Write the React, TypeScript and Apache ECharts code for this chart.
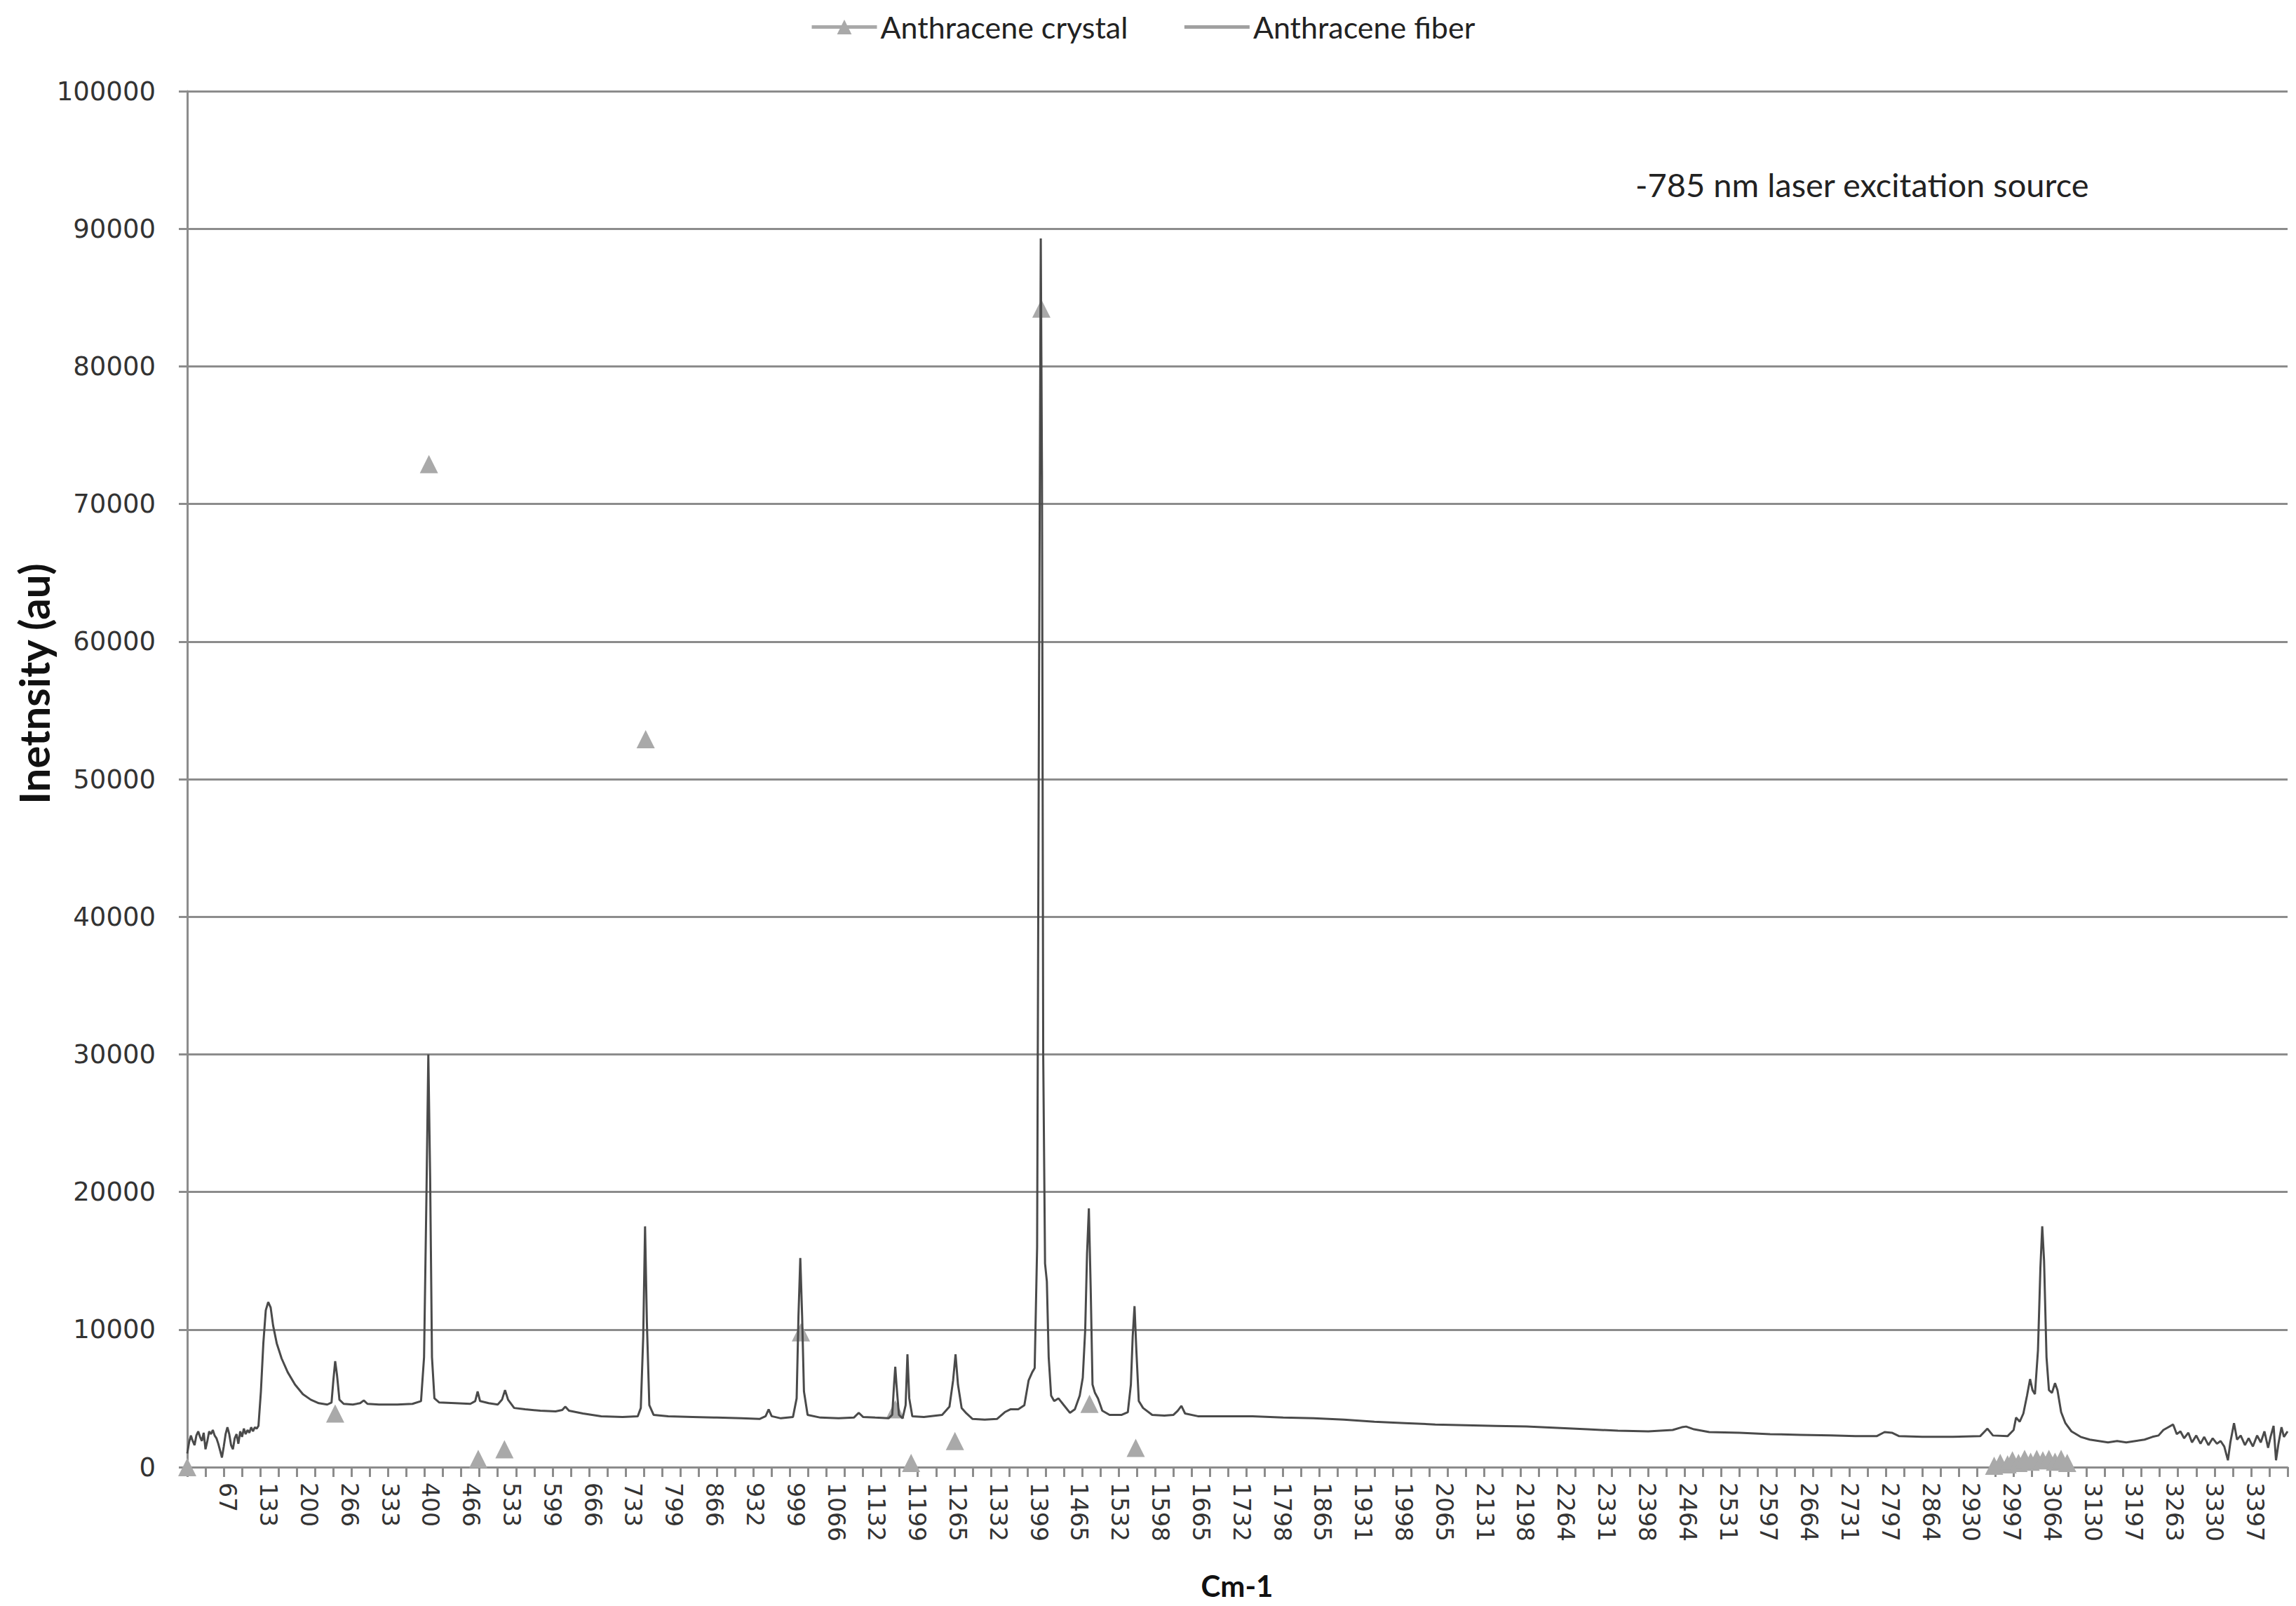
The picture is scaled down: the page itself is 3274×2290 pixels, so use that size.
import React, { useEffect, useRef } from 'react';
import * as echarts from 'echarts';

// Tick labels printed under the wavenumber axis (one every 66.6 cm-1)
const xTickLabels: string[] = [
  '67', '133', '200', '266', '333', '400', '466', '533', '599', '666', '733', '799', '866', '932', '999',
  '1066', '1132', '1199', '1265', '1332', '1399', '1465', '1532', '1598', '1665', '1732', '1798', '1865',
  '1931', '1998', '2065', '2131', '2198', '2264', '2331', '2398', '2464', '2531', '2597', '2664', '2731',
  '2797', '2864', '2930', '2997', '3064', '3130', '3197', '3263', '3330', '3397',
];
const labelStep = 66.6;
const tickStep = 30;
const xMax = 3450;

// Anthracene crystal: sparse points [cm-1, intensity]
const crystalPoints: [number, number][] = [
  [0, 0], [243, 3900], [397, 72900], [478, 600], [521, 1300], [753, 52900], [1008, 9800],
  [1163, 4200], [1189, 300], [1261, 1900], [1403, 84200], [1482, 4600], [1558, 1400],
  [2968, 100], [2978, 300], [2990, 200], [2998, 500], [3008, 300], [3018, 600], [3028, 400],
  [3038, 600], [3048, 500], [3058, 600], [3068, 400], [3078, 600], [3088, 300],
];

// Anthracene fiber spectrum [cm-1, intensity]
const fiberSpectrum: [number, number][] = [
  [0, 1000], [3, 1800], [6, 2300], [9, 1900], [12, 1600], [15, 2300], [18, 2600], [21, 2200], [24, 1900],
  [27, 2500], [30, 1300], [33, 1900], [36, 2600], [39, 2400], [42, 2700], [45, 2300], [48, 2100], [51, 1700],
  [54, 1200], [57, 700], [60, 1500], [63, 2400], [66, 2900], [69, 2400], [72, 1600], [75, 1300], [78, 2100],
  [81, 2400], [84, 1700], [87, 2600], [90, 2200], [93, 2800], [96, 2400], [99, 2700], [102, 2500], [105, 2900],
  [108, 2600], [111, 2900], [114, 2800], [117, 3000],
  [121, 5500], [125, 9000], [129, 11400], [133, 12000], [137, 11600], [141, 10300], [147, 9000], [155, 7900],
  [165, 6900], [177, 6000], [190, 5300], [203, 4900], [216, 4650], [230, 4550], [237, 4700], [240, 6300],
  [243, 7700], [246, 6700], [250, 4900], [257, 4600], [272, 4550], [284, 4650], [290, 4850], [296, 4600],
  [315, 4550], [345, 4550], [370, 4600], [384, 4800], [389, 8000], [393, 20000], [396, 30000], [399, 21000],
  [402, 8000], [406, 5000], [414, 4700], [440, 4650], [465, 4600], [473, 4800], [477, 5500], [481, 4800],
  [495, 4650], [510, 4550], [517, 4900], [522, 5600], [527, 4900], [537, 4300], [555, 4200], [580, 4100],
  [605, 4050], [616, 4150], [621, 4400], [627, 4100], [650, 3900], [680, 3700], [715, 3650], [740, 3700],
  [745, 4300], [749, 9500], [752, 17500], [755, 10500], [759, 4500], [766, 3800], [790, 3700], [830, 3650],
  [870, 3600], [910, 3550], [940, 3500], [950, 3700], [955, 4200], [960, 3700], [975, 3550], [995, 3650],
  [1001, 5000], [1004, 11000], [1007, 15200], [1010, 11000], [1013, 5500], [1019, 3800], [1040, 3600],
  [1070, 3550], [1095, 3600], [1103, 3950], [1110, 3650], [1130, 3600], [1152, 3550], [1158, 3800],
  [1161, 6000], [1163, 7300], [1165, 6000], [1169, 3800], [1175, 3550], [1180, 4500], [1183, 8200],
  [1186, 5000], [1191, 3700], [1210, 3650], [1240, 3800], [1252, 4400], [1258, 6300], [1262, 8200],
  [1266, 6000], [1272, 4300], [1280, 3900], [1290, 3500], [1310, 3450], [1330, 3500], [1343, 4000],
  [1352, 4200], [1365, 4200], [1375, 4500], [1382, 6300], [1388, 6900], [1392, 7200], [1396, 16000],
  [1399, 55000], [1402, 89300], [1404, 72000], [1406, 30000], [1409, 14800], [1412, 13500], [1415, 8000],
  [1419, 5200], [1424, 4800], [1431, 5000], [1440, 4500], [1450, 3950], [1458, 4200], [1466, 5200],
  [1471, 6500], [1475, 10000], [1478, 15500], [1481, 18800], [1484, 13000], [1487, 6000], [1491, 5400],
  [1496, 5000], [1503, 4100], [1515, 3800], [1535, 3800], [1545, 4000], [1550, 6000], [1553, 9500],
  [1556, 11700], [1559, 8500], [1563, 4800], [1570, 4300], [1585, 3800], [1605, 3750], [1620, 3800],
  [1627, 4100], [1633, 4450], [1639, 3900], [1660, 3700], [1700, 3700], [1750, 3700], [1800, 3600],
  [1850, 3550], [1900, 3450], [1950, 3300], [2000, 3200], [2050, 3100], [2100, 3050], [2150, 3000],
  [2200, 2950], [2250, 2850], [2300, 2750], [2350, 2650], [2400, 2600], [2440, 2700], [2455, 2900],
  [2462, 2950], [2475, 2750], [2500, 2550], [2550, 2500], [2600, 2400], [2650, 2350], [2700, 2300],
  [2740, 2250], [2775, 2250], [2788, 2550], [2800, 2500], [2812, 2250], [2850, 2200], [2900, 2200],
  [2945, 2250], [2957, 2800], [2966, 2300], [2990, 2250], [3000, 2700], [3004, 3600], [3010, 3300],
  [3016, 3900], [3022, 5200], [3027, 6400], [3031, 5600], [3035, 5300], [3040, 8500], [3044, 14500],
  [3047, 17500], [3050, 15000], [3054, 8000], [3058, 5600], [3063, 5400], [3068, 6100], [3072, 5600],
  [3078, 4000], [3085, 3200], [3095, 2600], [3110, 2200], [3125, 2000], [3140, 1900], [3155, 1800],
  [3170, 1900], [3185, 1800], [3200, 1900], [3215, 2000], [3228, 2200], [3238, 2300], [3246, 2700],
  [3262, 3100], [3268, 2400], [3274, 2600], [3280, 2100], [3287, 2500], [3293, 1800], [3300, 2300],
  [3307, 1700], [3313, 2200], [3320, 1600], [3327, 2100], [3334, 1700], [3340, 1900], [3346, 1500],
  [3352, 500], [3356, 1800], [3362, 3200], [3367, 2000], [3373, 2300], [3380, 1600], [3386, 2100],
  [3393, 1500], [3400, 2300], [3406, 1800], [3412, 2600], [3418, 1400], [3422, 2200], [3427, 3000],
  [3431, 500], [3435, 1700], [3440, 2900], [3444, 2200], [3450, 2600],
];

const gridGray = '#8c8c8c';
const crystalGray = '#a9a9a9';
const fiberGray = '#4a4a4a';

export default function App() {
  const ref = useRef<HTMLDivElement>(null);

  useEffect(() => {
    const chart = echarts.init(ref.current as HTMLDivElement, null, { renderer: 'svg' });
    chart.setOption({
      animation: false,
      backgroundColor: '#ffffff',
      grid: { left: 267, right: 12, top: 130, bottom: 198, containLabel: false },
      legend: {
        left: 1150,
        top: 12,
        itemWidth: 93,
        itemHeight: 26,
        itemGap: 78,
        textStyle: { fontFamily: 'Lato', fontSize: 43, color: '#222222' },
        data: [
          { name: 'Anthracene crystal', lineStyle: { color: crystalGray, width: 5, opacity: 1 } },
          {
            name: 'Anthracene fiber',
            itemStyle: { opacity: 0 },
            lineStyle: { color: '#a0a0a0', width: 5, opacity: 1 },
          },
        ],
      },
      xAxis: [
        {
          type: 'value',
          min: 0,
          max: xMax,
          interval: labelStep,
          position: 'bottom',
          axisLine: { show: false },
          axisTick: { show: false },
          splitLine: { show: false },
          axisLabel: {
            rotate: -90,
            margin: 22,
            fontFamily: 'DejaVu Sans',
            fontSize: 33,
            color: '#333333',
            showMinLabel: true,
            showMaxLabel: true,
            formatter: (v: number) => {
              const i = Math.round(v / labelStep);
              if (i >= 1 && i <= xTickLabels.length && Math.abs(v - i * labelStep) < 0.5) {
                return xTickLabels[i - 1];
              }
              return '';
            },
          },
        },
        {
          type: 'value',
          min: 0,
          max: xMax,
          interval: tickStep,
          position: 'bottom',
          axisLine: { show: true, lineStyle: { color: gridGray, width: 3 } },
          axisTick: { show: true, length: 14, lineStyle: { color: gridGray, width: 3 } },
          axisLabel: { show: false },
          splitLine: { show: false },
        },
      ],
      yAxis: {
        type: 'value',
        min: 0,
        max: 100000,
        interval: 10000,
        axisLine: { show: true, lineStyle: { color: gridGray, width: 3 } },
        axisTick: { show: true, length: 12, lineStyle: { color: gridGray, width: 3 } },
        splitLine: { show: true, lineStyle: { color: gridGray, width: 3 } },
        axisLabel: {
          margin: 45,
          fontFamily: 'DejaVu Sans',
          fontSize: 37,
          color: '#333333',
          formatter: (v: number) => String(v),
        },
      },
      series: [
        {
          name: 'Anthracene crystal',
          type: 'line',
          xAxisIndex: 0,
          data: crystalPoints,
          symbol: 'triangle',
          symbolSize: 26,
          showSymbol: true,
          itemStyle: { color: crystalGray },
          lineStyle: { width: 0, opacity: 0 },
          z: 2,
        },
        {
          name: 'Anthracene fiber',
          type: 'line',
          xAxisIndex: 0,
          data: fiberSpectrum,
          symbol: 'none',
          showSymbol: false,
          itemStyle: { color: fiberGray },
          lineStyle: { color: fiberGray, width: 3 },
          z: 3,
        },
      ],
      graphic: [
        {
          type: 'text',
          x: 48,
          y: 975,
          rotation: Math.PI / 2,
          style: {
            text: 'Inetnsity (au)',
            font: 'bold 60px Lato',
            fill: '#111111',
            align: 'center',
            verticalAlign: 'middle',
            textAlign: 'center',
            textVerticalAlign: 'middle',
          },
        },
        {
          type: 'text',
          x: 1764,
          y: 2261,
          style: {
            text: 'Cm-1',
            font: 'bold 42px Lato',
            fill: '#111111',
            align: 'center',
            verticalAlign: 'middle',
            textAlign: 'center',
            textVerticalAlign: 'middle',
          },
        },
        {
          type: 'text',
          x: 2332,
          y: 263,
          style: {
            text: '-785 nm laser excitation source',
            font: '47px Lato',
            fill: '#222222',
            align: 'left',
            verticalAlign: 'middle',
            textAlign: 'left',
            textVerticalAlign: 'middle',
          },
        },
      ],
    });
    return () => chart.dispose();
  }, []);

  return (
    <div
      ref={ref}
      style={{ position: 'absolute', left: 0, top: 0, width: 3274, height: 2290, background: '#ffffff' }}
    />
  );
}
